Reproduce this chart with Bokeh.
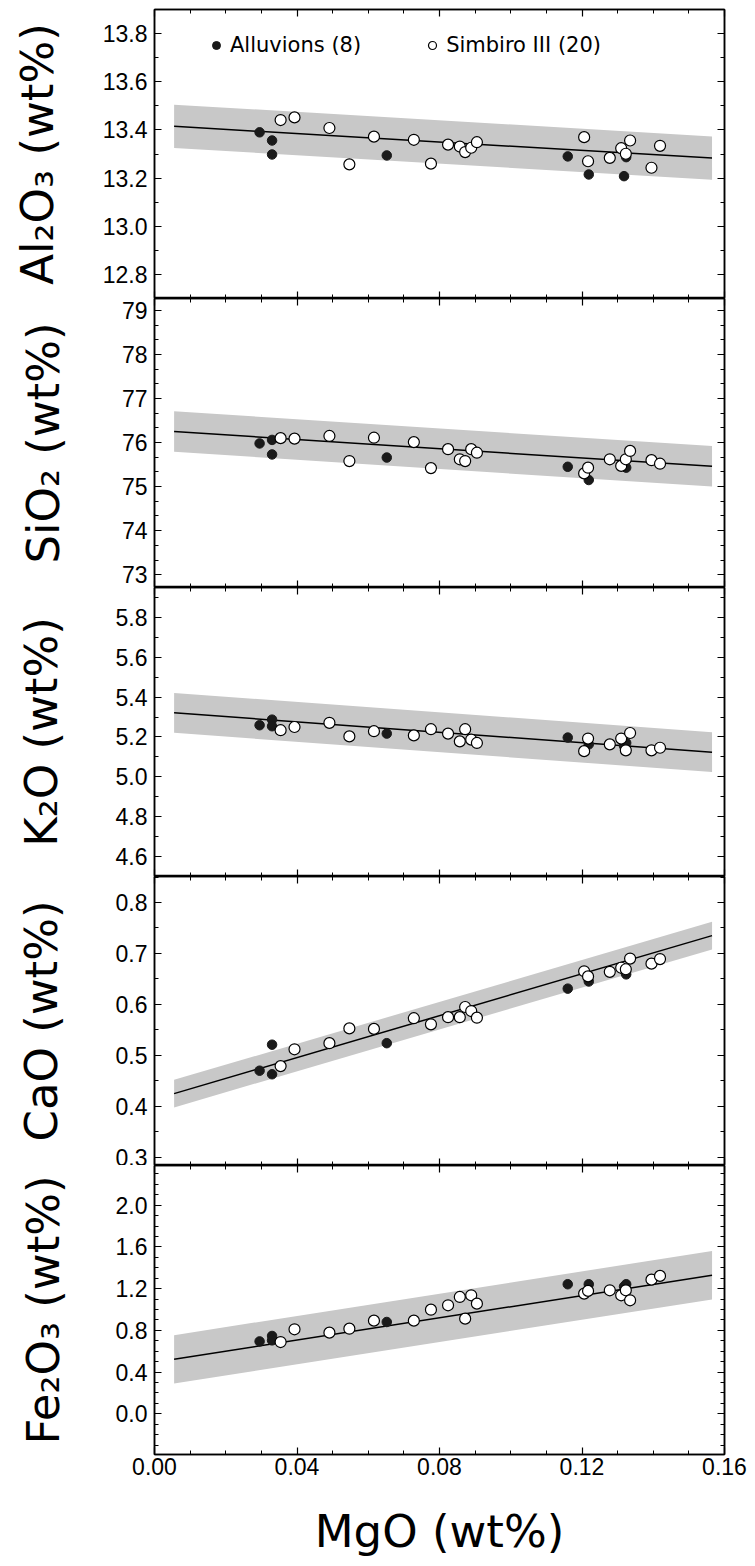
from bokeh.plotting import figure
from bokeh.models import (Range1d, LinearAxis, FixedTicker, Legend, LegendItem,
                          PrintfTickFormatter, CustomLabelingPolicy)
from bokeh.layouts import column
from bokeh.embed import file_html
from bokeh.resources import INLINE

# ---------------- data ----------------
mgo_alluvions = [0.0295, 0.0330, 0.0330, 0.0652, 0.1160, 0.1219, 0.1318, 0.1324]
mgo_simbiro = [0.0354, 0.0393, 0.0491, 0.0547, 0.0616, 0.0728, 0.0776, 0.0824, 0.0857, 0.0872,
               0.0889, 0.0905, 0.1206, 0.1217, 0.1278, 0.1310, 0.1323, 0.1335, 0.1395, 0.1419]

al2o3_alluvions = [13.390, 13.356, 13.298, 13.294, 13.290, 13.215, 13.208, 13.287]
al2o3_simbiro = [13.441, 13.452, 13.408, 13.257, 13.372, 13.359, 13.260, 13.339, 13.331, 13.308,
                 13.326, 13.349, 13.370, 13.270, 13.284, 13.324, 13.301, 13.356, 13.243, 13.334]

sio2_alluvions = [75.98, 76.06, 75.73, 75.66, 75.45, 75.15, 75.50, 75.43]
sio2_simbiro = [76.10, 76.09, 76.15, 75.58, 76.11, 76.01, 75.42, 75.85, 75.62, 75.58,
                75.85, 75.77, 75.30, 75.43, 75.62, 75.47, 75.62, 75.81, 75.60, 75.52]

k2o_alluvions = [5.259, 5.287, 5.254, 5.217, 5.197, 5.163, 5.155, 5.170]
k2o_simbiro = [5.234, 5.250, 5.271, 5.203, 5.229, 5.208, 5.239, 5.217, 5.178, 5.239,
               5.187, 5.170, 5.129, 5.192, 5.163, 5.192, 5.133, 5.220, 5.133, 5.146]

cao_alluvions = [0.470, 0.521, 0.463, 0.524, 0.631, 0.645, 0.667, 0.659]
cao_simbiro = [0.479, 0.512, 0.524, 0.553, 0.552, 0.573, 0.561, 0.575, 0.575, 0.595,
               0.587, 0.574, 0.665, 0.655, 0.664, 0.672, 0.669, 0.690, 0.680, 0.689]

fe2o3_alluvions = [0.694, 0.746, 0.704, 0.880, 1.242, 1.242, 1.220, 1.242]
fe2o3_simbiro = [0.688, 0.810, 0.778, 0.816, 0.893, 0.893, 0.998, 1.040, 1.120, 0.912,
                 1.136, 1.056, 1.152, 1.178, 1.184, 1.136, 1.184, 1.088, 1.286, 1.322]

# regression lines (value at both ends of fit_mgo) and half-width of the grey band
fit_mgo = [0.0055, 0.1565]
al2o3_fit = [13.415, 13.283]
al2o3_band = 0.090
sio2_fit = [76.25, 75.46]
sio2_band = 0.46
k2o_fit = [5.321, 5.124]
k2o_band = 0.100
cao_fit = [0.425, 0.735]
cao_band = 0.027
fe2o3_fit = [0.522, 1.328]
fe2o3_band = 0.232

# axes
x_ticks = [0.00, 0.04, 0.08, 0.12, 0.16]
x_minor = [round(0.01 * i, 2) for i in range(17)]
al2o3_ticks = [12.8, 13.0, 13.2, 13.4, 13.6, 13.8]
sio2_ticks = [73, 74, 75, 76, 77, 78, 79]
k2o_ticks = [4.6, 4.8, 5.0, 5.2, 5.4, 5.6, 5.8]
cao_ticks = [0.3, 0.4, 0.5, 0.6, 0.7, 0.8]
fe2o3_ticks = [0.0, 0.4, 0.8, 1.2, 1.6, 2.0]

legend_labels = ["Alluvions (8)", "Simbiro III (20)"]
x_title = "MgO (wt%)"

panels = [
    dict(title="Al₂O₃ (wt%)", a=al2o3_alluvions, s=al2o3_simbiro, fit=al2o3_fit, band=al2o3_band,
         yr=(12.70, 13.90), ticks=al2o3_ticks, minor=[round(12.7 + 0.1 * i, 2) for i in range(13)],
         fmt="%.1f", stand=36),
    dict(title="SiO₂ (wt%)", a=sio2_alluvions, s=sio2_simbiro, fit=sio2_fit, band=sio2_band,
         yr=(72.71, 79.27), ticks=sio2_ticks, minor=[72 + i / 3 for i in range(24)],
         fmt="%d", stand=49),
    dict(title="K₂O (wt%)", a=k2o_alluvions, s=k2o_simbiro, fit=k2o_fit, band=k2o_band,
         yr=(4.50, 5.95), ticks=k2o_ticks, minor=[round(4.5 + 0.1 * i, 2) for i in range(15)],
         fmt="%.1f", stand=45),
    dict(title="CaO (wt%)", a=cao_alluvions, s=cao_simbiro, fit=cao_fit, band=cao_band,
         yr=(0.284, 0.851), ticks=cao_ticks, minor=[round(0.3 + 0.05 * i, 3) for i in range(12)],
         fmt="%.1f", stand=45),
    dict(title="Fe₂O₃ (wt%)", a=fe2o3_alluvions, s=fe2o3_simbiro, fit=fe2o3_fit, band=fe2o3_band,
         yr=(-0.39, 2.38), ticks=fe2o3_ticks, minor=[round(-0.3 + 0.1 * i, 2) for i in range(27)],
         fmt="%.1f", stand=43),
]

TICK_FONT = "Liberation Sans"
TITLE_FONT = "DejaVu Sans"
figs = []
n = len(panels)


def bare_axis(ticker, common):
    # tick marks only: the labelling policy drops every label, so none is drawn
    return LinearAxis(ticker=ticker, major_label_text_font_size="0px", major_label_standoff=0,
                      major_label_policy=CustomLabelingPolicy(code="return []"), **common)


for i, pd_ in enumerate(panels):
    last = i == n - 1
    p = figure(frame_width=570, frame_height=289,
               x_range=Range1d(0, 0.16), y_range=Range1d(*pd_["yr"]),
               x_axis_location=None, y_axis_location=None,
               output_backend="svg", toolbar_location=None,
               min_border_left=154, min_border_right=23,
               min_border_top=9 if i == 0 else 0, min_border_bottom=0,
               background_fill_color="white", border_fill_color="white")
    p.grid.visible = False
    p.outline_line_color = "black"
    p.outline_line_width = 1.5

    common = dict(major_tick_in=7, major_tick_out=0, minor_tick_in=4, minor_tick_out=0,
                  axis_line_width=1.5, axis_line_color="black",
                  major_tick_line_width=1.2, minor_tick_line_width=1.0)
    yt = FixedTicker(ticks=pd_["ticks"], minor_ticks=pd_["minor"])
    xt = FixedTicker(ticks=x_ticks, minor_ticks=x_minor)

    left = LinearAxis(ticker=yt, formatter=PrintfTickFormatter(format=pd_["fmt"]),
                      axis_label=pd_["title"], axis_label_standoff=pd_["stand"],
                      axis_label_text_font=TITLE_FONT, axis_label_text_font_size="45px",
                      axis_label_text_font_style="normal", axis_label_text_color="black",
                      major_label_standoff=7, major_label_text_font=TICK_FONT,
                      major_label_text_font_size="23px", major_label_text_color="black", **common)
    right = bare_axis(yt, common)
    top = bare_axis(xt, common)
    if last:
        bottom = LinearAxis(ticker=xt, formatter=PrintfTickFormatter(format="%.2f"),
                            axis_label=x_title, axis_label_standoff=27,
                            axis_label_text_font=TITLE_FONT, axis_label_text_font_size="45px",
                            axis_label_text_font_style="normal", axis_label_text_color="black",
                            major_label_standoff=3, major_label_text_font=TICK_FONT,
                            major_label_text_font_size="23px", major_label_text_color="black", **common)
    else:
        bottom = bare_axis(xt, common)
    p.add_layout(left, "left")
    p.add_layout(right, "right")
    p.add_layout(top, "above")
    p.add_layout(bottom, "below")

    lower = [v - pd_["band"] for v in pd_["fit"]]
    upper = [v + pd_["band"] for v in pd_["fit"]]
    p.varea(x=fit_mgo, y1=lower, y2=upper, fill_color="#c8c8c8", fill_alpha=1.0)
    p.line(x=fit_mgo, y=pd_["fit"], line_color="black", line_width=1.5)
    r_a = p.scatter(x=mgo_alluvions, y=pd_["a"], size=9.5, marker="circle",
                    fill_color="#1a1a1a", line_color="#1a1a1a", line_width=1)
    r_s = p.scatter(x=mgo_simbiro, y=pd_["s"], size=11, marker="circle",
                    fill_color="white", line_color="black", line_width=1.2)
    if i == 0:
        leg = Legend(items=[LegendItem(label=legend_labels[0], renderers=[r_a]),
                            LegendItem(label=legend_labels[1], renderers=[r_s])],
                     location=(52, 241), orientation="horizontal",
                     padding=0, margin=0, spacing=61, glyph_width=20, glyph_height=20,
                     label_standoff=4, label_text_font=TITLE_FONT, label_text_font_size="21px",
                     label_text_color="black",
                     border_line_color=None, background_fill_alpha=0)
        p.add_layout(leg)
    figs.append(p)

layout = column(*figs, spacing=0)
open("out.html", "w").write(file_html(layout, INLINE))
